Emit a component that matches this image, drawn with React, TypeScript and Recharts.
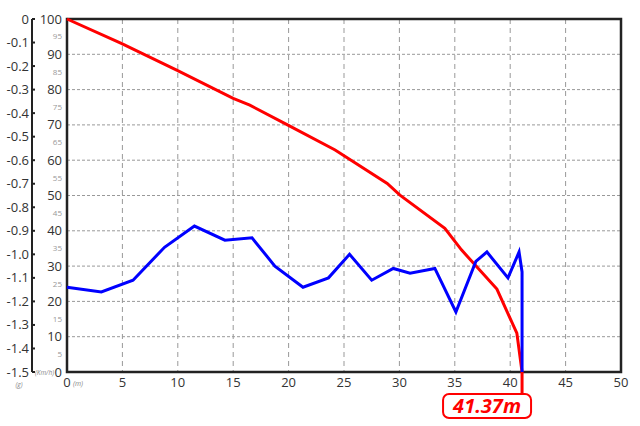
import { LineChart, Line, XAxis, YAxis, CartesianGrid, ReferenceArea, ReferenceLine } from "recharts";

// speed (km/h) vs distance (m)
const speedDist = [0, 4.9, 9.9, 15, 16.5, 19.9, 24.2, 28.9, 30.05, 34.1, 35.6, 38.8, 40.6, 41.07];
const speedVals = [100, 93.1, 85.5, 77.5, 75.6, 70, 62.9, 53.4, 50.1, 40.7, 34.6, 23.5, 11, 0];

// deceleration (g) vs distance (m)
const gDist = [0, 3.1, 5.96, 8.8, 11.5, 14.25, 16.7, 18.76, 21.3, 23.6, 25.5, 27.5, 29.45, 30.96, 33.2, 35.1, 36.9, 37.9, 39.8, 40.8, 41.07, 41.07];
const gVals = [-1.14, -1.16, -1.11, -0.97, -0.88, -0.94, -0.93, -1.05, -1.14, -1.1, -1.0, -1.11, -1.06, -1.08, -1.06, -1.245, -1.03, -0.99, -1.1, -0.99, -1.075, -1.5];

const xTicks = [0, 5, 10, 15, 20, 25, 30, 35, 40, 45, 50];
const speedTicks = [0, 5, 10, 15, 20, 25, 30, 35, 40, 45, 50, 55, 60, 65, 70, 75, 80, 85, 90, 95, 100];
const gTicks = [0, -0.1, -0.2, -0.3, -0.4, -0.5, -0.6, -0.7, -0.8, -0.9, -1.0, -1.1, -1.2, -1.3, -1.4, -1.5];
const gridX = [5, 10, 15, 20, 25, 30, 35, 40, 45];
const gridY = [10, 20, 30, 40, 50, 60, 70, 80, 90];

const stopDist = 41.07;
const stopLabel = "41.37m";

const speedData = speedDist.map((d, i) => ({ d, v: speedVals[i] }));
const gData = gDist.map((d, i) => ({ d, g: gVals[i] }));

const font = "'Open Sans', sans-serif";

function XTick({ x, y, payload }: any) {
  return (
    <g>
      <text x={x} y={y + 15} textAnchor="middle" fontSize={13} fill="#333" fontFamily={font}>
        {payload.value}
      </text>
      {payload.value === 0 && (
        <text x={x + 6} y={y + 14} fontSize={7} fontStyle="italic" fill="#888" fontFamily={font}>
          (m)
        </text>
      )}
    </g>
  );
}

function SpeedTick({ x, y, payload }: any) {
  const major = payload.value % 10 === 0;
  return (
    <g>
      <text
        x={x - 5}
        y={y}
        dy="0.35em"
        textAnchor="end"
        fontSize={major ? 13 : 8}
        fill={major ? "#333" : "#999"}
        fontFamily={font}
      >
        {payload.value}
      </text>
      {payload.value === 0 && (
        <text x={x - 13} y={y + 3} textAnchor="end" fontSize={6.5} fontStyle="italic" fill="#888" fontFamily={font}>
          (Km/h)
        </text>
      )}
    </g>
  );
}

function GTick({ x, y, payload }: any) {
  const v = payload.value;
  const label = v === 0 ? "0" : v.toFixed(1);
  return (
    <g>
      <line x1={x} x2={x + 3} y1={y} y2={y} stroke="#222" strokeWidth={2} />
      <text x={x - 3} y={y} dy="0.35em" textAnchor="end" fontSize={13} fill="#333" fontFamily={font}>
        {label}
      </text>
      {v === -1.5 && (
        <text x={19} y={y + 15} textAnchor="middle" fontSize={6.5} fontStyle="italic" fill="#888" fontFamily={font}>
          (g)
        </text>
      )}
    </g>
  );
}

function StopMarker(props: any) {
  const x = props.x1;
  const bottom = Math.max(props.y1, props.y2);
  return (
    <g>
      <line x1={x} x2={x} y1={bottom} y2={bottom + 22} stroke="#ff0000" strokeWidth={3} />
      <rect x={x - 79} y={bottom + 22} width={88} height={24} rx={6} ry={6} fill="#fff" stroke="#ff0000" strokeWidth={2} />
      <text
        x={x - 35}
        y={bottom + 41}
        textAnchor="middle"
        fontSize={20}
        fontWeight="bold"
        fontStyle="italic"
        fill="#ff0000"
        fontFamily={font}
      >
        {stopLabel}
      </text>
    </g>
  );
}

export default function App() {
  return (
    <div style={{ position: "fixed", left: 0, top: 0, background: "#fff" }}>
      <LineChart width={640} height={426} margin={{ top: 19, right: 19, bottom: 24, left: 0 }}>
        <CartesianGrid xAxisId="x" yAxisId="speed" horizontal={false} verticalValues={gridX} stroke="#999" strokeDasharray="5 4" />
        <CartesianGrid xAxisId="x" yAxisId="speed" vertical={false} horizontalValues={gridY} stroke="#999" strokeDasharray="3 2" />
        <XAxis
          xAxisId="x"
          dataKey="d"
          type="number"
          domain={[0, 50]}
          ticks={xTicks}
          height={30}
          tickSize={0}
          tickMargin={0}
          tickLine={false}
          axisLine={false}
          tick={<XTick />}
          interval={0}
          allowDuplicatedCategory={false}
        />
        <YAxis
          yAxisId="speed"
          type="number"
          domain={[0, 100]}
          ticks={speedTicks}
          width={35}
          tickSize={0}
          tickMargin={0}
          tickLine={false}
          axisLine={false}
          tick={<SpeedTick />}
          interval={0}
        />
        <YAxis
          yAxisId="zg"
          type="number"
          domain={[-1.5, 0]}
          ticks={gTicks}
          width={32}
          tickSize={0}
          tickMargin={0}
          tickLine={false}
          axisLine={{ stroke: "#222", strokeWidth: 2 }}
          tick={<GTick />}
          interval={0}
        />
        <Line
          xAxisId="x"
          yAxisId="speed"
          data={speedData}
          dataKey="v"
          type="linear"
          stroke="#ff0000"
          strokeWidth={3}
          dot={false}
          isAnimationActive={false}
        />
        <Line
          xAxisId="x"
          yAxisId="zg"
          data={gData}
          dataKey="g"
          type="linear"
          stroke="#0000ff"
          strokeWidth={3}
          dot={false}
          isAnimationActive={false}
        />
        <ReferenceArea xAxisId="x" yAxisId="speed" x1={0} x2={50} y1={0} y2={100} fill="none" stroke="#222" strokeWidth={2.5} fillOpacity={0} />
        <ReferenceLine xAxisId="x" yAxisId="speed" x={stopDist} shape={<StopMarker />} />
      </LineChart>
    </div>
  );
}
